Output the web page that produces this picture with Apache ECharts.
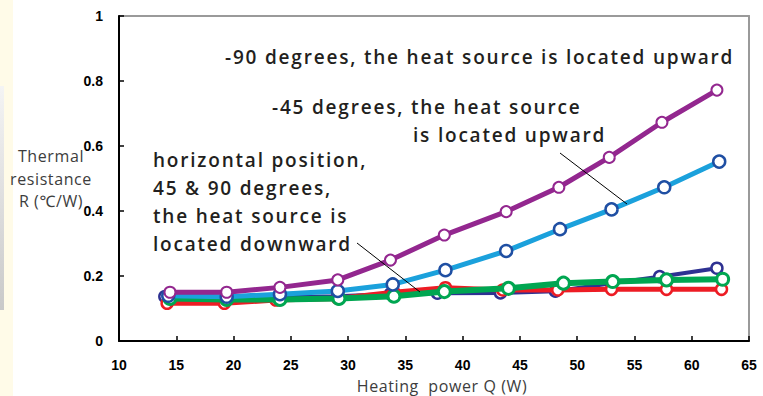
<!DOCTYPE html>
<html>
<head>
<meta charset="utf-8">
<script src="https://cdn.jsdelivr.net/npm/echarts@6/dist/echarts.min.js"></script>
<style>
html,body{margin:0;padding:0;background:#fff;}
#c{width:763px;height:396px;}
#c svg text[style*="19px"]{letter-spacing:1.8px;}
#c svg text[style*="16px"]{letter-spacing:0.6px;}
</style>
</head>
<body>
<div id="c"></div>
<script>
// ---- data ----
const xTicks = [10, 15, 20, 25, 30, 35, 40, 45, 50, 55, 60, 65];
const yTicks = [0, 0.2, 0.4, 0.6, 0.8, 1];

const navyX   = [14.0, 19.4, 24.0, 29.1, 33.7, 37.8, 43.3, 48.1, 53.0, 57.2, 62.2];
const navyY   = [0.137, 0.133, 0.135, 0.138, 0.145, 0.147, 0.148, 0.153, 0.178, 0.198, 0.224];
const redX    = [14.2, 19.2, 23.7, 29.1, 34.0, 38.5, 43.5, 48.3, 53.0, 57.8, 62.6];
const redY    = [0.116, 0.116, 0.126, 0.131, 0.150, 0.164, 0.157, 0.157, 0.159, 0.159, 0.159];
const greenX  = [14.45, 19.4, 24.05, 29.2, 34.0, 38.4, 44.0, 48.8, 53.1, 57.8, 62.7];
const greenY  = [0.131, 0.128, 0.128, 0.131, 0.138, 0.152, 0.162, 0.178, 0.183, 0.188, 0.190];
const cyanX   = [14.3, 19.4, 24.05, 29.1, 33.9, 38.5, 43.8, 48.5, 53.0, 57.6, 62.4];
const cyanY   = [0.139, 0.136, 0.144, 0.154, 0.174, 0.218, 0.277, 0.344, 0.405, 0.473, 0.552];
const purpleX = [14.45, 19.4, 24.05, 29.1, 33.7, 38.4, 43.8, 48.4, 52.8, 57.4, 62.2];
const purpleY = [0.150, 0.150, 0.165, 0.188, 0.249, 0.326, 0.398, 0.473, 0.565, 0.673, 0.772];

const xName = 'Heating  power Q (W)';
const yName = 'Thermal\nresistance\nR (℃/W)';
const note1 = '-90 degrees, the heat source is located upward';
const note2a = '-45 degrees, the heat source';
const note2b = 'is located upward';
const note3 = ['horizontal position,', '45 & 90 degrees,', 'the heat source is', 'located downward'];

function pairs(xs, ys) { return xs.map((x, i) => [x, ys[i]]); }

const chart = echarts.init(document.getElementById('c'), null, {renderer: 'svg'});

function mkSeries(name, xs, ys, lineColor, markColor, lw, ms, bw, z) {
  return {
    name: name, type: 'line', data: pairs(xs, ys), z: z,
    lineStyle: {color: lineColor, width: lw},
    itemStyle: {color: '#fff', borderColor: markColor, borderWidth: bw},
    symbol: 'circle', symbolSize: ms, showSymbol: true,
    emphasis: {disabled: true}, animation: false
  };
}

const txtFont = '"Open Sans", "Noto Sans", sans-serif';
const noteStyle = {fontFamily: txtFont, fontSize: 19, fill: '#231f20', fontWeight: 600};
const tickFont = '"Liberation Sans", Arial, sans-serif';

chart.setOption({
  animation: false,
  backgroundColor: '#fff',
  grid: {left: 119, right: 14, top: 16, bottom: 55, outerBoundsMode: 'none', containLabel: false},
  xAxis: [{
    type: 'value', min: 10, max: 65, interval: 5,
    name: xName, nameLocation: 'middle', nameGap: 37, nameMoveOverlap: false,
    nameTextStyle: {fontFamily: txtFont, fontSize: 16, color: '#3d3d3d', padding: [0, 0, 0, 16]},
    axisLine: {show: true, onZero: false, lineStyle: {color: '#000', width: 2}},
    axisTick: {show: true, inside: true, length: 5, lineStyle: {color: '#000', width: 1.5}},
    axisLabel: {fontFamily: tickFont, fontWeight: 'bold', fontSize: 14, color: '#000', margin: 17,
      formatter: v => xTicks.includes(v) ? String(v) : ''},
    splitLine: {show: false}, z: 10
  }, {
    type: 'value', min: 10, max: 65, position: 'top',
    axisLine: {show: true, onZero: false, lineStyle: {color: '#9a9a9a', width: 2}},
    axisTick: {show: false}, axisLabel: {show: false}, splitLine: {show: false}
  }],
  yAxis: [{
    type: 'value', min: 0, max: 1, interval: 0.2,
    name: yName, nameLocation: 'middle', nameGap: 68, nameRotate: 0, nameMoveOverlap: false,
    nameTextStyle: {fontFamily: txtFont, fontSize: 16, color: '#3d3d3d', lineHeight: 22.5, align: 'center', verticalAlign: 'middle', padding: [0, 0, 11, 0]},
    axisLine: {show: true, onZero: false, lineStyle: {color: '#000', width: 2}},
    axisTick: {show: true, inside: true, length: 5, lineStyle: {color: '#000', width: 1.5}},
    axisLabel: {fontFamily: tickFont, fontWeight: 'bold', fontSize: 14, color: '#000', margin: 16,
      formatter: v => { const t = yTicks.find(k => Math.abs(k - v) < 1e-9); return t === undefined ? '' : String(t); }},
    splitLine: {show: false}, z: 10
  }, {
    type: 'value', min: 0, max: 1, position: 'right',
    axisLine: {show: true, onZero: false, lineStyle: {color: '#9a9a9a', width: 2}},
    axisTick: {show: false}, axisLabel: {show: false}, splitLine: {show: false}
  }],
  graphic: [
    {type: 'rect', z: -10, shape: {x: 0, y: 0, width: 13, height: 396}, style: {fill: '#fffbe8'}},
    {type: 'rect', z: -9, shape: {x: 0, y: 86, width: 4, height: 224},
      style: {fill: new echarts.graphic.LinearGradient(0, 0, 0, 1, [{offset: 0, color: '#f4f4f4'}, {offset: 1, color: '#c9c9c9'}])}},
    {type: 'text', z: 100, left: 225, top: 47.5, style: Object.assign({text: note1}, noteStyle)},
    {type: 'text', z: 100, left: 272, top: 97.5, style: Object.assign({text: note2a}, noteStyle)},
    {type: 'text', z: 100, left: 413, top: 125.5, style: Object.assign({text: note2b}, noteStyle)},
    {type: 'text', z: 100, left: 153, top: 146, style: Object.assign({text: note3.join('\n'), lineHeight: 28}, noteStyle)},
    {type: 'line', z: 100, shape: {x1: 357, y1: 243, x2: 420, y2: 292}, style: {stroke: '#000', lineWidth: 1}},
    {type: 'line', z: 100, shape: {x1: 560, y1: 153, x2: 627, y2: 204}, style: {stroke: '#000', lineWidth: 1}}
  ],
  series: [
    mkSeries('navy', navyX, navyY, '#2e3192', '#2e3192', 4, 11, 2.5, 2),
    mkSeries('red', redX, redY, '#ed1c24', '#ed1c24', 5, 11, 2.5, 3),
    mkSeries('green', greenX, greenY, '#00a651', '#00a651', 6, 12, 3, 4),
    mkSeries('cyan', cyanX, cyanY, '#1ba1dc', '#1f4fa3', 5, 12, 2.5, 5),
    mkSeries('purple', purpleX, purpleY, '#93278f', '#93278f', 5, 11, 2, 6)
  ]
});
</script>
</body>
</html>
